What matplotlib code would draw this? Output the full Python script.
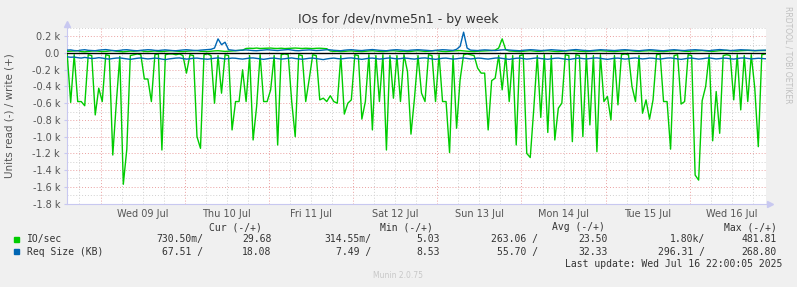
import matplotlib
matplotlib.use("Agg")
import matplotlib.pyplot as plt
from matplotlib.patches import Rectangle
import pandas as pd

W, H = 797, 287

# hourly samples starting 2025-07-08 14:30 (IO/sec, read is drawn negative)
read_io = [
    -10, -590, -20, -580, -580, -630, -20, -30, -740, -420,
    -580, -20, -30, -1220, -600, -40, -1570, -1150, -30, -20,
    -10, -20, -310, -310, -580, -20, -10, -1160, -20, -10,
    -10, -20, -10, -30, -240, -20, -30, -1000, -1140, -20,
    -10, -30, -600, -30, -480, -20, -30, -920, -580, -580,
    -200, -580, -30, -1040, -640, -20, -580, -580, -440, -30,
    -1100, -20, -10, -20, -580, -1000, -20, -30, -580, -310,
    -20, -30, -560, -540, -580, -510, -580, -600, -30, -730,
    -600, -560, -20, -30, -790, -580, -20, -920, -30, -580,
    -20, -1160, -30, -540, -30, -580, -20, -220, -970, -540,
    -30, -480, -580, -20, -30, -580, -20, -580, -580, -1190,
    -30, -900, -320, -20, -10, -20, -30, -180, -240, -240,
    -920, -330, -300, -30, -440, -20, -580, -30, -1100, -30,
    -20, -1200, -1250, -670, -30, -770, -20, -950, -30, -1040,
    -660, -600, -20, -30, -1060, -20, -30, -1000, -20, -860,
    -30, -1180, -20, -580, -520, -800, -30, -620, -20, -10,
    -20, -400, -580, -30, -720, -560, -790, -560, -20, -10,
    -580, -580, -1150, -30, -20, -610, -580, -20, -30, -1460,
    -1520, -570, -400, -20, -1050, -460, -960, -30, -20, -30,
    -560, -20, -680, -30, -580, -20, -420, -1120, -20, -10,
]
write_io = [
    20, 22, 25, 28, 18, 15, 20, 24, 26, 22, 18, 20, 25, 30, 22, 18, 15, 20, 24, 22,
    26, 28, 20, 18, 22, 25, 20, 18, 22, 26, 28, 24, 20, 18, 22, 25, 28, 30, 22, 20,
    18, 22, 26, 28, 24, 20, 22, 25, 28, 30, 35, 55, 58, 56, 60, 55, 57, 58, 60, 56,
    55, 58, 54, 56, 58, 60, 57, 55, 58, 56, 54, 57, 58, 55, 52, 25, 20, 22, 18, 20,
    24, 26, 22, 20, 18, 22, 25, 28, 24, 20, 18, 22, 26, 28, 24, 20, 22, 18, 20, 25,
    28, 24, 20, 22, 26, 30, 24, 20, 18, 22, 25, 28, 30, 26, 22, 20, 18, 22, 24, 26,
    28, 30, 35, 60, 170, 40, 25, 22, 20, 18, 22, 25, 28, 24, 20, 22, 26, 28, 24, 20,
    18, 22, 25, 28, 30, 26, 22, 20, 18, 22, 24, 26, 28, 25, 22, 20, 18, 22, 25, 28,
    30, 26, 22, 20, 24, 26, 28, 25, 22, 20, 18, 22, 25, 28, 30, 26, 22, 20, 24, 26,
    28, 30, 26, 22, 20, 24, 28, 30, 32, 28, 26, 24, 28, 30, 32, 30, 28, 30, 30, 30,
]
# request size (KB), read drawn negative
req_read = [
    -45, -50, -48, -55, -60, -52, -58, -65, -62, -55, -60, -68, -72, -65, -60, -58, -64, -70, -75, -68,
    -62, -58, -65, -70, -66, -60, -64, -72, -78, -70, -65, -60, -58, -66, -72, -68, -62, -60, -66, -70,
    -74, -68, -62, -58, -64, -70, -66, -60, -62, -68, -72, -66, -60, -58, -64, -70, -75, -68, -62, -60,
    -66, -72, -68, -62, -58, -65, -70, -74, -68, -62, -60, -66, -72, -78, -70, -64, -60, -66, -70, -65,
    -60, -58, -64, -70, -75, -68, -62, -60, -66, -72, -68, -62, -58, -64, -70, -66, -60, -62, -68, -72,
    -66, -60, -58, -64, -70, -75, -68, -62, -60, -66, -72, -68, -62, -58, -64, -70, -66, -60, -62, -68,
    -72, -66, -60, -58, -64, -70, -75, -68, -62, -60, -66, -72, -68, -62, -58, -65, -70, -74, -68, -62,
    -60, -66, -72, -78, -70, -64, -60, -66, -70, -65, -60, -58, -64, -70, -75, -68, -62, -60, -66, -72,
    -68, -62, -58, -64, -70, -66, -60, -62, -68, -72, -66, -60, -58, -64, -70, -75, -68, -62, -60, -66,
    -72, -68, -62, -58, -64, -70, -66, -60, -62, -68, -72, -66, -60, -58, -64, -70, -66, -62, -65, -68,
]
req_write = [
    35, 38, 30, 28, 36, 40, 33, 30, 28, 35, 38, 42, 36, 30, 28, 32, 38, 40, 35, 30,
    28, 33, 36, 40, 38, 32, 30, 35, 38, 34, 30, 28, 33, 37, 40, 36, 32, 30, 35, 38,
    40, 45, 60, 170, 100, 130, 40, 35, 30, 33, 36, 38, 34, 30, 28, 32, 36, 40, 37, 33,
    30, 35, 38, 42, 36, 30, 28, 33, 36, 38, 34, 30, 32, 36, 40, 38, 33, 30, 28, 34,
    38, 40, 36, 32, 30, 35, 38, 42, 37, 33, 30, 28, 34, 38, 40, 36, 32, 30, 35, 38,
    40, 37, 33, 30, 28, 33, 36, 40, 38, 34, 32, 45, 80, 250, 60, 35, 32, 30, 35, 38,
    36, 32, 30, 34, 38, 40, 36, 33, 30, 28, 33, 36, 40, 38, 34, 30, 32, 36, 40, 37,
    33, 30, 28, 34, 38, 42, 37, 33, 30, 28, 32, 36, 40, 38, 35, 32, 30, 34, 38, 40,
    36, 33, 30, 28, 32, 36, 40, 38, 34, 30, 28, 33, 37, 40, 36, 32, 30, 35, 38, 40,
    37, 33, 30, 28, 34, 38, 42, 38, 34, 30, 32, 36, 40, 38, 35, 33, 30, 32, 34, 35,
]

day_labels = ["Wed 09 Jul", "Thu 10 Jul", "Fri 11 Jul", "Sat 12 Jul",
              "Sun 13 Jul", "Mon 14 Jul", "Tue 15 Jul", "Wed 16 Jul"]
headers = ["Cur (-/+)", "Min (-/+)", "Avg (-/+)", "Max (-/+)"]
io_stats = ["730.50m/", "29.68", "314.55m/", "5.03", "263.06 /", "23.50", "1.80k/", "481.81"]
req_stats = ["67.51 /", "18.08", "7.49 /", "8.53", "55.70 /", "32.33", "296.31 /", "268.80"]

times = pd.date_range("2025-07-08 14:30", periods=len(read_io), freq="h")
days = pd.date_range("2025-07-09", periods=8, freq="D")
quarters = pd.date_range("2025-07-08 18:00", "2025-07-16 18:00", freq="6h")

GREEN = "#00cc00"
BLUE = "#0066b3"
AXC = "#c8c8f0"

fig = plt.figure(figsize=(W / 100, H / 100), dpi=100, facecolor="#f0f0f0")
ax = fig.add_axes([67 / W, 1 - 203.5 / H, (766 - 67) / W, (203.5 - 28) / H])
ax.set_facecolor("white")

# grid: 6h minor gray, day boundaries red
for t in quarters:
    if t.hour != 0:
        ax.axvline(t, color="#d0d0d0", lw=0.7, ls=(0, (1, 2)), zorder=1)
for t in days:
    ax.axvline(t, color="#eaa0a0", lw=0.7, ls=(0, (1, 2)), zorder=1)
for v in range(-1800, 301, 100):
    if v == 0:
        continue
    c = "#eaa0a0" if v % 200 == 0 else "#d0d0d0"
    ax.axhline(v, color=c, lw=0.7, ls=(0, (1, 2)), zorder=1)

ax.plot(times, read_io, color=GREEN, lw=1.0, zorder=3)
ax.plot(times, write_io, color=GREEN, lw=1.0, zorder=3)
ax.plot(times, req_read, color=BLUE, lw=1.0, zorder=4)
ax.plot(times, req_write, color=BLUE, lw=1.0, zorder=4)
ax.axhline(0, color="black", lw=1.0, zorder=5)

ax.set_xlim(pd.Timestamp("2025-07-08 14:27"), pd.Timestamp("2025-07-16 21:42"))
ax.set_ylim(-1800, 300)

yt = list(range(-1800, 201, 200))
ax.set_yticks(yt)
ax.set_yticklabels(["0.0" if v == 0 else f"{v / 1000:.1f} k" for v in yt])
ax.set_xticks(days + pd.Timedelta(hours=12))
ax.set_xticklabels(day_labels)
ax.tick_params(axis="y", length=2, pad=3, color=AXC, labelsize=7, labelcolor="#555555")
ax.tick_params(axis="x", length=0, pad=4, labelsize=7, labelcolor="#555555")

for s in ["top", "right"]:
    ax.spines[s].set_visible(False)
for s in ["left", "bottom"]:
    ax.spines[s].set_color(AXC)
    ax.spines[s].set_linewidth(0.8)
ax.plot([0], [1.025], marker="^", ms=4, color=AXC, transform=ax.transAxes, clip_on=False)
ax.plot([1.006], [0], marker=">", ms=4, color=AXC, transform=ax.transAxes, clip_on=False)


def ftxt(x, y, s, **kw):
    fig.text(x / W, 1 - y / H, s, **kw)


ftxt(398, 19, "IOs for /dev/nvme5n1 - by week", size=9, ha="center", va="center", color="#333333")
ftxt(10, 116, "Units read (-) / write (+)", size=7.5, rotation=90, ha="center", va="center", color="#555555")
ftxt(788, 6, "RRDTOOL / TOBI OETIKER", size=5.5, rotation=270, ha="center", va="top", color="#c0c0c0")
ftxt(398, 276, "Munin 2.0.75", size=5.5, ha="center", va="center", color="#c8c8c8")

mono = dict(family="DejaVu Sans Mono", size=7, color="#333333", va="center")
for hx, h in zip([235.5, 406.5, 578, 750], headers):
    ftxt(hx, 227.3, h, ha="center", **mono)

rights = [203.3, 271.7, 371.7, 440, 538, 608, 705, 776.7]
for ry, name, col, stats in [(239.3, "IO/sec", GREEN, io_stats), (251.7, "Req Size (KB)", BLUE, req_stats)]:
    fig.add_artist(Rectangle((14 / W, 1 - (ry + 2.3) / H), 4.6 / W, 4.6 / H,
                             transform=fig.transFigure, color=col))
    ftxt(26.7, ry, name, ha="left", **mono)
    for rx, s in zip(rights, stats):
        ftxt(rx, ry, s, ha="right", **mono)

ftxt(782.7, 264, "Last update: Wed Jul 16 22:00:05 2025", ha="right", **mono)

fig.savefig("out.png", dpi=100, facecolor=fig.get_facecolor())
